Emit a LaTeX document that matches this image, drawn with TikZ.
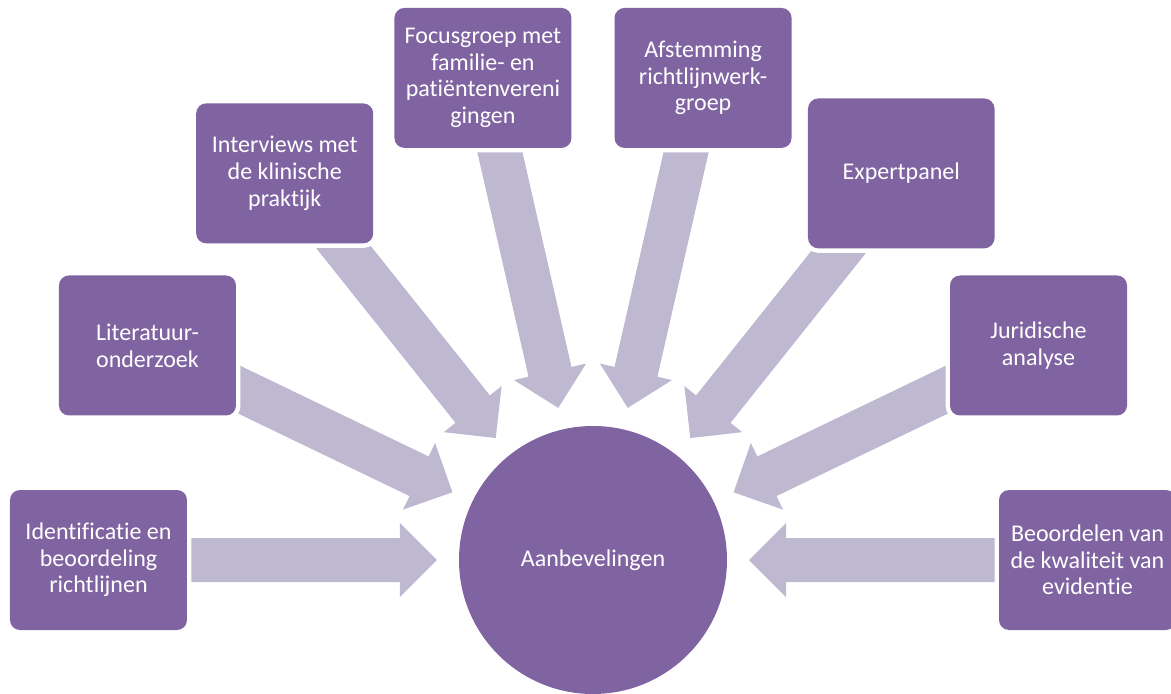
\documentclass[tikz,border=0pt]{standalone}
\usepackage{fontspec}
\setmainfont{Carlito}[Ligatures=CommonOff]
\usepackage{tikz}
\usetikzlibrary{calc,backgrounds}

\definecolor{boxpurple}{HTML}{8064A2}
\definecolor{arrowlilac}{HTML}{BFB8D1}

\tikzset{
  stepbox/.style={rectangle, rounded corners=7.5pt, fill=boxpurple, text=white,
    minimum width=132.75pt, minimum height=105pt, align=center, inner sep=2pt,
    font=\fontsize{18pt}{20pt}\selectfont,
    preaction={draw=white, line width=6.75pt}},
  arrowfill/.style={fill=arrowlilac},
}

% block arrow from a box towards the centre circle (c)
\newcommand\radarrow[1]{%
  \path let \p1=($(c)!117pt!(#1)$), \p2=($(\p1)-(#1)$) in
    \pgfextra{\pgfmathsetmacro\arrang{atan2(\y2,\x2)}%
      \pgfmathsetmacro\arrlen{veclen(\x2,\y2)}%
      \xdef\arrang{\arrang}\xdef\arrlen{\arrlen}};
  \fill[arrowfill, shift={(#1)}, rotate=\arrang]
    (0pt,-16.5pt) -- (\arrlen pt-27.75pt,-16.5pt) -- (\arrlen pt-27.75pt,-27.75pt)
    -- (\arrlen pt,0pt) -- (\arrlen pt-27.75pt,27.75pt)
    -- (\arrlen pt-27.75pt,16.5pt) -- (0pt,16.5pt) -- cycle;
}

\begin{document}
\begin{tikzpicture}[x=0.75pt, y=0.75pt]
  \useasboundingbox (-593,-133) rectangle (578,560);
  \def\R{494.5}
  \node[circle, fill=boxpurple, text=white, minimum size=201pt,
    font=\fontsize{18pt}{20pt}\selectfont] (c) at (0,0) {Aanbevelingen};

  \node[stepbox] (ident) at (180:\R) {Identificatie en\\beoordeling\\richtlijnen};
  \node[stepbox] (lit) at (154.29:\R) {Literatuur-\\onderzoek};
  \node[stepbox] (interv) at (128.57:\R) {Interviews met\\de klinische\\praktijk};
  \node[stepbox] (focus) at (102.86:\R) {Focusgroep met\\familie- en\\patiëntenvereni\\gingen};
  \node[stepbox] (afst) at (77.14:\R) {Afstemming\\richtlijnwerk-\\groep};
  \node[stepbox, minimum width=140pt, minimum height=112.5pt, rounded corners=8pt] (expert) at (51.43:\R) {Expertpanel};
  \node[stepbox] (jur) at (25.71:\R) {Juridische\\analyse};
  \node[stepbox] (beoord) at (0:\R) {Beoordelen van\\de kwaliteit van\\evidentie};

  \begin{pgfonlayer}{background}
    \foreach \b in {ident,lit,interv,focus,afst,expert,jur,beoord}
      {\radarrow{\b}}
  \end{pgfonlayer}
\end{tikzpicture}
\end{document}
